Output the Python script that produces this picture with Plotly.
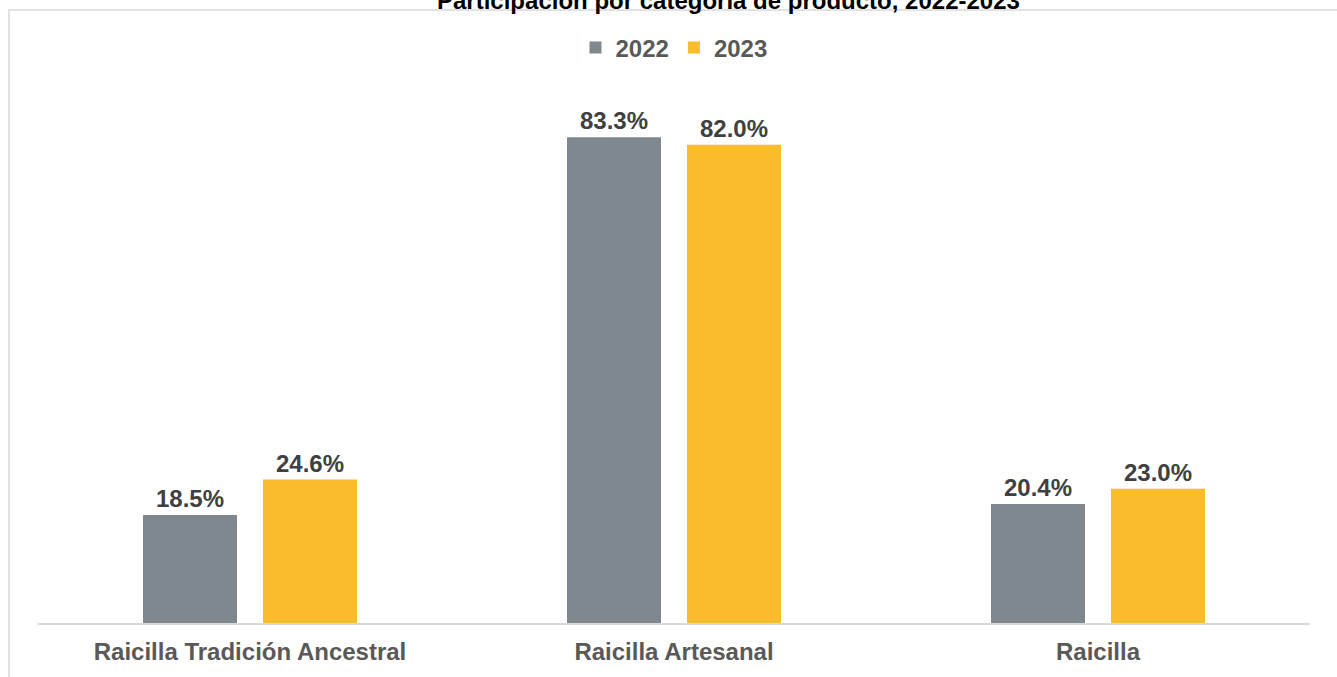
import plotly.graph_objects as go

categories = ["Raicilla Tradición Ancestral", "Raicilla Artesanal", "Raicilla"]
years = ["2022", "2023"]
values_2022 = [18.5, 83.3, 20.4]
values_2023 = [24.6, 82.0, 23.0]
colors = {"2022": "#7F888E", "2023": "#F9BC2A"}
title_text = "Participación por categoría de producto, 2022-2023"

FONT = "Liberation Sans, Arial"

fig = go.Figure()
for yr, vals in zip(years, [values_2022, values_2023]):
    fig.add_trace(go.Bar(
        x=categories, y=vals, name=f"<b>{yr}</b>",
        marker=dict(color=colors[yr], line=dict(width=0)),
        text=[f"{v:.1f}%" for v in vals],
        texttemplate="<b>%{text}</b>",
        textposition="outside",
        textfont=dict(family=FONT, size=24, color="#404040"),
        cliponaxis=False,
    ))

fig.update_layout(
    width=1337, height=677,
    barmode="group", bargap=0.434, bargroupgap=0.2167,
    margin=dict(l=38, r=27, t=69, b=54, autoexpand=False),
    paper_bgcolor="white", plot_bgcolor="white",
    font=dict(family=FONT, size=24, color="#595959"),
    showlegend=True,
    legend=dict(orientation="h", x=0.5, xanchor="center", yref="container",
                y=1 - 48/677, yanchor="middle",
                font=dict(size=24, color="#595959", family=FONT),
                itemwidth=30, tracegroupgap=0),
    xaxis=dict(showline=True, linecolor="#D9D9D9", linewidth=1.5,
               ticks="", showgrid=False, ticklabelstandoff=6,
               tickvals=categories, ticktext=[f"<b>{c}</b>" for c in categories],
               tickfont=dict(size=24, color="#595959", family=FONT)),
    yaxis=dict(range=[0, 95], visible=False, showgrid=False),
)

fig.add_annotation(text=f"<b>{title_text}</b>", xref="paper", yref="paper",
                   x=(728 - 38) / 1272, y=1 + 69 / 554, xanchor="center", yanchor="middle",
                   showarrow=False, font=dict(size=24, color="#000000", family=FONT))

fig.add_shape(type="rect", xref="paper", yref="paper",
              x0=(9 - 38) / 1272, x1=(1350 - 38) / 1272,
              y0=-0.3, y1=(623 - 10) / 554,
              line=dict(color="#D9D9D9", width=1.5), fillcolor="rgba(0,0,0,0)", layer="below")

fig.write_html("out.html", config={"displayModeBar": False},
               post_script="document.body.style.margin='0';document.body.style.overflow='hidden';")
